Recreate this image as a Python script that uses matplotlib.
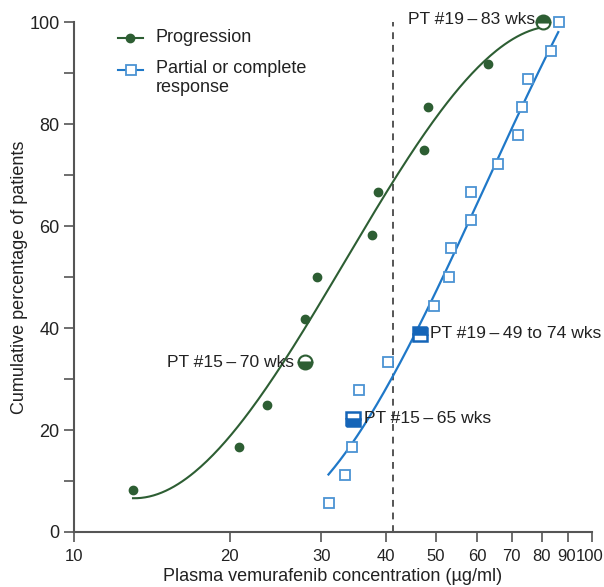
import numpy as np
import matplotlib.pyplot as plt
from matplotlib.transforms import ScaledTranslation

plt.rcParams['font.family'] = ['Liberation Sans', 'DejaVu Sans']

# progression patients (cumulative %), concentration in ug/ml
prog_conc = [13.0, 20.8, 23.6, 27.9, 27.9, 29.5, 37.7, 38.6, 47.3, 48.2, 63.0, 80.5]
prog_pct = [8.3, 16.7, 25.0, 33.3, 41.7, 50.0, 58.3, 66.7, 75.0, 83.3, 91.7, 100.0]

# partial / complete response patients
resp_conc = [31.1, 33.3, 34.4, 34.5, 35.5, 40.4, 46.6, 49.5, 52.9, 53.4, 58.5, 58.5,
             66.0, 72.0, 73.2, 75.2, 83.3, 86.5]
resp_pct = [5.6, 11.1, 16.7, 22.2, 27.8, 33.3, 38.9, 44.4, 50.0, 55.6, 61.1, 66.7,
            72.2, 77.8, 83.3, 88.9, 94.4, 100.0]

# trend curves
prog_fit_conc = [13.0, 18.6, 21.5, 25.7, 27.3, 32.6, 41.3, 48.7, 55.6, 66.4, 80.0]
prog_fit_pct = [5.7, 17.0, 25.0, 33.0, 36.7, 49.4, 68.8, 80.8, 88.3, 95.2, 98.1]
resp_fit_conc = [31.0, 34.4, 41.3, 46.9, 51.6, 58.1, 71.0, 86.1]
resp_fit_pct = [11.4, 16.9, 31.2, 41.6, 49.4, 61.2, 80.8, 97.9]

# highlighted patients (index into the lists above)
prog_hl = {3: ('PT #15\u2009\u2013\u200970 wks', 'bottom'),
           11: ('PT #19\u2009\u2013\u200983 wks', 'top')}
resp_hl = {3: ('PT #15\u2009\u2013\u200965 wks', 'bottom'),
           6: ('PT #19\u2009\u2013\u200949 to 74 wks', 'top')}

threshold = 41.3

green = '#2d5e33'
blue_line = '#1f78c8'
blue_sq = '#4b93d3'
blue_dark = '#1565b8'
grey = '#555555'
txt = '#222222'

fig = plt.figure(figsize=(6.04, 5.87), dpi=100)
ax = fig.add_axes([0.1225, 0.0937, 0.8575, 0.8688])


def smooth_curve(xv, yv, deg):
    # smooth polynomial through the read curve points, in log concentration
    c = np.polyfit(np.log10(xv), yv, deg)
    u = np.linspace(np.log10(xv[0]), np.log10(xv[-1]), 200)
    return 10 ** u, np.polyval(c, u)


gx, gy = smooth_curve(prog_fit_conc, prog_fit_pct, 3)
ax.plot(gx, gy, color=green, lw=1.5, zorder=2)
bx, by = smooth_curve(resp_fit_conc, resp_fit_pct, 3)
ax.plot(bx, by, color=blue_line, lw=1.6, zorder=2)

# points
for i, (x, y) in enumerate(zip(prog_conc, prog_pct)):
    if i in prog_hl:
        ax.plot(x, y, 'o', ms=10, fillstyle=prog_hl[i][1], color=green,
                markerfacecoloralt='white', mec=green, mew=1.5, zorder=4, clip_on=False)
    else:
        ax.plot(x, y, 'o', ms=6, color=green, zorder=4)

for i, (x, y) in enumerate(zip(resp_conc, resp_pct)):
    if i in resp_hl:
        ax.plot(x, y, 's', ms=10, fillstyle=resp_hl[i][1], color=blue_dark,
                markerfacecoloralt='white', mec=blue_dark, mew=1.8, zorder=4)
    else:
        ax.plot(x, y, 's', ms=7.5, mfc='white', mec=blue_sq, mew=1.3, zorder=4,
                clip_on=False)

ax.axvline(threshold, ymin=0, ymax=1, color=grey, ls=(0, (3.5, 3)), lw=1.4, zorder=1)

# labels for highlighted patients
fs = 12.6
ax.text(prog_conc[3] * 0.955, prog_pct[3], prog_hl[3][0], ha='right', va='center',
        fontsize=fs, color=txt)
ax.text(prog_conc[11] * 0.965, prog_pct[11] + 0.5, prog_hl[11][0], ha='right', va='center',
        fontsize=fs, color=txt)
ax.text(resp_conc[3] * 1.05, resp_pct[3], resp_hl[3][0], ha='left', va='center',
        fontsize=fs, color=txt)
ax.text(resp_conc[6] * 1.045, resp_pct[6], resp_hl[6][0], ha='left', va='center',
        fontsize=fs, color=txt)

# axes
ax.set_xscale('log')
ax.set_xlim(10, 100)
ax.set_ylim(0, 100)
xt = [10, 20, 30, 40, 50, 60, 70, 80, 90, 100]
ax.set_xticks(xt)
ax.set_xticklabels([str(v) for v in xt])
ax.xaxis.set_minor_locator(plt.NullLocator())
ax.set_yticks([0, 20, 40, 60, 80, 100])
ax.set_yticks([10, 30, 50, 70, 90], minor=True)
for s in ['top', 'right']:
    ax.spines[s].set_visible(False)
for s in ['left', 'bottom']:
    ax.spines[s].set_color(grey)
    ax.spines[s].set_linewidth(1.5)
ax.tick_params(which='both', direction='out', length=7, width=1.2, color=grey,
               labelsize=13, labelcolor=txt)
ax.tick_params(axis='x', pad=5, labelsize=12)
# nudge the crowded last x labels so they stay apart and inside the figure
for lab, dx in zip(ax.get_xticklabels()[-2:], [-1.0, -1.5]):
    lab.set_transform(lab.get_transform() + ScaledTranslation(dx / 72, 0, fig.dpi_scale_trans))

ax.set_xlabel('Plasma vemurafenib concentration (\u00b5g/ml)', fontsize=13,
              color=txt, labelpad=3)
ax.set_ylabel('Cumulative percentage of patients', fontsize=13, color=txt,
              labelpad=1)

# legend drawn by hand so the square sits beside the first text line
tr = ax.transAxes
ax.plot([0.085, 0.133], [0.969, 0.969], color=green, lw=1.5, transform=tr, clip_on=False)
ax.plot([0.108], [0.969], 'o', ms=6, color=green, transform=tr, clip_on=False)
ax.plot([0.085, 0.133], [0.906, 0.906], color=blue_line, lw=1.5, transform=tr,
        clip_on=False)
ax.plot([0.110], [0.906], 's', ms=7.5, mfc='white', mec=blue_sq, mew=1.3,
        transform=tr, clip_on=False)
ax.text(0.158, 0.969, 'Progression', transform=tr, ha='left', va='center',
        fontsize=13, color=txt)
ax.text(0.158, 0.926, 'Partial or complete\nresponse', transform=tr, ha='left',
        va='top', fontsize=13, color=txt, linespacing=1.15)

fig.savefig('out.png', dpi=100)
